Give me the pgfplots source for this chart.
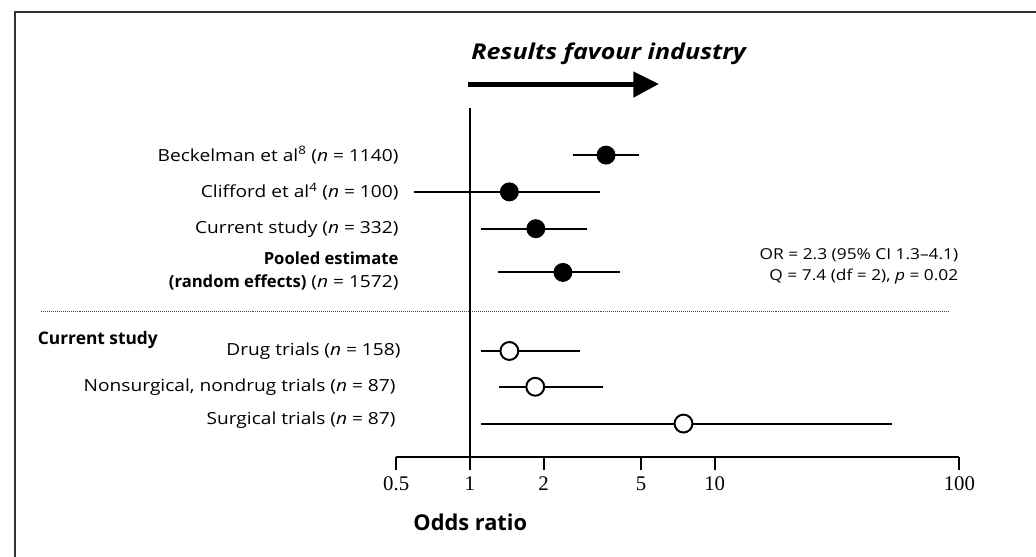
\documentclass[border=0pt]{standalone}
\usepackage{fontspec}
\setmainfont{Open Sans}[UprightFeatures={FakeStretch=1.15}, ItalicFeatures={FakeStretch=1.15}, BoldItalicFeatures={FakeStretch=1.15}]
\newfontfamily\tickfont{Liberation Serif}
\usepackage{pgfplots}
\pgfplotsset{compat=1.18}
\begin{document}
\newcommand{\lab}{\fontsize{16.8}{20}\selectfont}
\newcommand{\stat}{\fontsize{15.2}{18}\selectfont}
\begin{tikzpicture}
\path[use as bounding box] (0bp,0bp) rectangle (1036bp,560bp);
\begin{scope}[x=1bp,y=1bp]
% frame (top and left edges)
\draw[line width=1.5bp, black!80] (9,0) -- (9,548) -- (1036,548);
% arrow
\draw[line width=5bp] (465,475.5) -- (632,475.5);
\fill (631,488.3) -- (656.5,475.5) -- (631,461.7) -- cycle;
\node[anchor=base west, inner sep=0pt, font=\fontsize{22}{26}\selectfont\bfseries\itshape] at (468,500) {Results favour industry};
% dotted separator
\draw[line width=0.8bp, black!70, dash pattern=on 0.9bp off 1.1bp] (35,247) -- (948,247);
\end{scope}
\begin{axis}[
  at={(392.5bp,100bp)}, anchor=south west, scale only axis,
  width=566.5bp, height=351bp,
  xmode=log, xmin=0.5, xmax=100, ymin=0, ymax=351,
  axis x line*=bottom, axis y line=none,
  xtick={0.5,1,2,5,10,100}, xticklabels={0.5,1,2,5,10,100},
  xminorticks=false,
  xtick align=outside, major tick length=13bp,
  tick style={line width=2bp, black},
  axis line style={line width=2bp, black},
  xticklabel style={font=\tickfont\fontsize{21}{24}\selectfont, yshift=-3bp},
  clip=false,
]
\draw[line width=2bp] (axis cs:1,0) -- (axis cs:1,351);
% confidence intervals
\addplot[line width=2bp, no marks] coordinates {(2.63,304) (4.91,304)};
\addplot[line width=2bp, no marks] coordinates {(0.59,267) (3.39,267)};
\addplot[line width=2bp, no marks] coordinates {(1.11,230) (3.02,230)};
\addplot[line width=2bp, no marks] coordinates {(1.30,186) (4.12,186)};
\addplot[line width=2bp, no marks] coordinates {(1.11,107) (2.81,107)};
\addplot[line width=2bp, no marks] coordinates {(1.32,71) (3.51,71)};
\addplot[line width=2bp, no marks] coordinates {(1.11,34) (52.9,34)};
% point estimates
\addplot[only marks, mark=*, mark size=9bp, mark options={fill=black, draw=black, line width=1bp}]
  coordinates {(3.6,304) (1.45,267) (1.86,230) (2.4,186)};
\addplot[only marks, mark=*, mark size=9bp, mark options={fill=white, draw=black, line width=2bp}]
  coordinates {(1.45,107) (1.85,71) (7.46,34)};
\end{axis}
\begin{scope}[x=1bp,y=1bp]
% row labels
\node[anchor=east, inner sep=0pt, font=\lab] at (395,404) {Beckelman et al\textsuperscript{8} (\textit{n} = 1140)};
\node[anchor=east, inner sep=0pt, font=\lab] at (395,367) {Clifford et al\textsuperscript{4} (\textit{n} = 100)};
\node[anchor=east, inner sep=0pt, font=\lab] at (395,330) {Current study (\textit{n} = 332)};
\node[anchor=east, inner sep=0pt, font=\lab] at (395,300) {\bfseries Pooled estimate};
\node[anchor=east, inner sep=0pt, font=\lab] at (395,276) {\textbf{(random effects)} (\textit{n} = 1572)};
\node[anchor=west, inner sep=0pt, font=\fontsize{17.5}{21}\selectfont\bfseries] at (32,218) {Current study};
\node[anchor=east, inner sep=0pt, font=\lab] at (397,207) {Drug trials (\textit{n} = 158)};
\node[anchor=east, inner sep=0pt, font=\lab] at (392,171) {Nonsurgical, nondrug trials (\textit{n} = 87)};
\node[anchor=east, inner sep=0pt, font=\lab] at (392,137) {Surgical trials (\textit{n} = 87)};
% statistics
\node[anchor=east, inner sep=0pt, font=\stat] at (958,303.5) {OR = 2.3 (95\% CI 1.3–4.1)};
\node[anchor=east, inner sep=0pt, font=\stat] at (958,281.5) {Q = 7.4 (df = 2), \textit{p} = 0.02};
% axis title
\node[inner sep=0pt, font=\fontsize{22}{26}\selectfont\bfseries] at (467,35) {Odds ratio};
\end{scope}
\end{tikzpicture}
\end{document}
